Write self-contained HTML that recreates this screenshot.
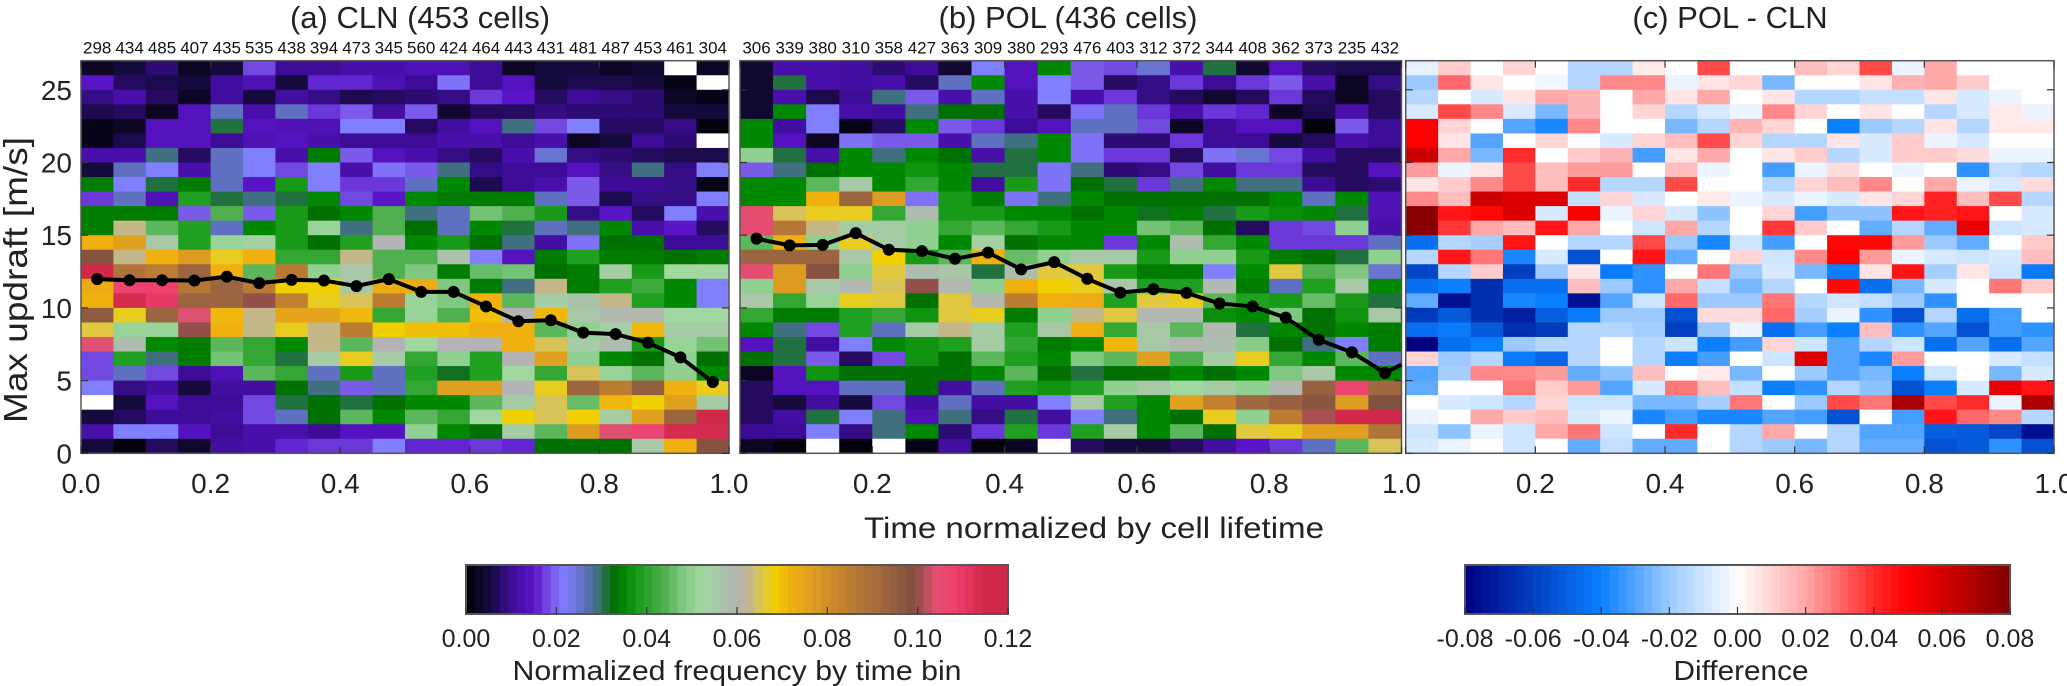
<!DOCTYPE html>
<html><head><meta charset="utf-8">
<style>
html,body{margin:0;padding:0;background:#fff;}
svg{display:block;font-family:"Liberation Sans",Arial,sans-serif;}
</style></head>
<body>
<svg id="fig" width="2067" height="686" viewBox="0 0 2067 686" xmlns="http://www.w3.org/2000/svg">
<rect x="0" y="0" width="2067" height="686" fill="#fff"/>
<g id="panels"></g>
<text x="420" y="28" font-size="31" text-anchor="middle" fill="#222">(a) CLN (453 cells)</text>
<text x="1068" y="28" font-size="31" text-anchor="middle" fill="#222">(b) POL (436 cells)</text>
<text x="1730" y="28" font-size="31" text-anchor="middle" fill="#222">(c) POL - CLN</text>
<text transform="translate(27,280) rotate(-90)" font-size="33" text-anchor="middle" textLength="286" lengthAdjust="spacingAndGlyphs" fill="#222">Max updraft [m/s]</text>
<text x="1094" y="538" font-size="30" text-anchor="middle" textLength="460" lengthAdjust="spacingAndGlyphs" fill="#222">Time normalized by cell lifetime</text>
<text x="737" y="680" font-size="28" text-anchor="middle" textLength="449" lengthAdjust="spacingAndGlyphs" fill="#222">Normalized frequency by time bin</text>
<text x="1741" y="680" font-size="28" text-anchor="middle" textLength="135" lengthAdjust="spacingAndGlyphs" fill="#222">Difference</text>
</svg>
<script>
// ---- data (values x1000; rows listed from top bin 26-27 m/s down to 0-1 m/s) ----
const timeTicks = [0.0,0.2,0.4,0.6,0.8,1.0];
const updraftTicks = [0,5,10,15,20,25];
const countsA = [298,434,485,407,435,535,438,394,473,345,560,424,464,443,431,481,487,453,461,304];
const countsB = [306,339,380,310,358,427,363,309,380,293,476,403,312,372,344,408,362,373,235,432];
const meanA = [11.98,11.9,11.9,11.88,12.15,11.7,11.93,11.88,11.5,11.98,11.1,11.1,10.1,9.08,9.15,8.3,8.2,7.6,6.6,4.9];
const meanB = [14.76,14.3,14.33,15.14,14.0,13.9,13.38,13.8,12.65,13.15,12.0,11.05,11.28,11.03,10.3,10.1,9.33,7.8,6.95,5.53];
const meanBEnd = 6.1;
const freqTickLabels = ["0.00","0.02","0.04","0.06","0.08","0.10","0.12"];
const diffTickLabels = ["-0.08","-0.06","-0.04","-0.02","0.00","0.02","0.04","0.06","0.08"];
const freqA = [
[3,5,8,3,5,18,10,10,12,12,13,13,10,3,5,5,3,4,null,3],
[15,7,6,5,11,13,5,16,16,13,10,21,10,14,5,6,6,5,2,null],
[9,12,7,3,11,5,11,9,6,7,8,9,17,15,7,10,9,8,3,2],
[6,7,3,14,26,12,26,17,19,11,19,4,7,7,9,8,8,8,5,5],
[2,3,14,14,31,14,13,13,22,22,7,11,14,29,18,22,7,7,9,1],
[2,6,14,14,10,13,14,12,10,10,10,12,12,10,12,3,5,10,8,null],
[12,12,29,7,26,22,12,34,19,14,12,9,7,12,25,9,8,7,6,6],
[5,26,22,12,26,22,18,22,12,21,19,29,9,10,10,14,9,29,9,22],
[34,22,31,34,26,15,38,22,17,17,26,35,6,10,12,19,10,10,9,2],
[17,26,13,39,31,29,31,35,18,15,35,34,34,34,26,19,6,9,9,22],
[34,34,34,19,44,19,38,33,35,44,29,26,47,44,38,9,15,7,22,12],
[34,63,45,39,26,35,38,51,29,44,33,26,35,31,26,29,35,12,15,7],
[72,76,56,39,51,54,38,33,39,60,35,38,33,29,11,21,33,33,10,10],
[98,63,72,77,67,72,41,41,63,44,44,57,22,14,34,39,34,34,33,34],
[115,88,85,93,72,45,86,50,56,44,48,34,46,47,33,34,54,38,52,52],
[73,107,108,87,93,86,68,68,56,73,73,48,34,29,63,34,39,42,35,22],
[72,114,110,93,93,100,84,67,65,85,51,48,72,45,55,57,63,39,35,22],
[96,67,93,104,71,63,75,75,71,41,51,44,70,60,71,56,59,59,52,52],
[66,51,51,100,72,63,67,63,85,68,70,70,72,72,45,50,54,71,55,55],
[104,58,35,34,45,41,35,63,45,60,52,60,60,72,65,55,58,38,51,47],
[18,39,29,34,47,41,31,55,67,55,41,50,39,60,76,50,35,33,50,33],
[18,26,18,10,13,45,41,26,38,26,39,32,39,52,41,65,51,45,50,35],
[22,9,11,5,11,11,33,29,19,26,41,76,76,60,67,93,85,95,72,67],
[null,5,14,10,10,18,31,33,31,33,35,35,45,55,65,46,71,68,76,55],
[5,7,10,10,11,18,26,33,45,35,45,41,52,68,65,68,55,76,93,115],
[12,22,22,14,10,12,12,10,14,14,50,35,33,55,45,77,104,107,114,114],
[5,1,7,4,11,12,16,17,17,22,16,16,17,16,33,33,33,56,72,98]
];
const freqB = [
[4,12,12,11,8,10,4,22,14,35,19,18,25,12,31,4,14,7,6,6],
[4,31,12,11,12,7,26,35,14,22,19,7,9,17,10,17,19,12,3,9],
[4,12,6,10,29,19,12,26,12,22,12,17,9,7,4,7,17,7,3,7],
[4,35,22,12,11,29,33,33,12,7,21,26,17,12,17,16,3,6,12,7],
[35,11,22,2,7,35,19,17,10,14,26,26,18,3,10,14,14,1,19,10],
[35,14,3,21,19,19,12,26,29,35,21,8,8,17,10,10,5,7,12,10],
[50,31,12,35,29,35,33,12,31,35,21,17,17,7,21,25,18,11,7,7],
[19,29,33,35,35,37,35,31,31,21,29,8,9,18,11,17,17,7,7,14],
[35,35,45,56,35,41,35,11,38,21,33,31,17,29,35,29,29,10,7,8],
[35,35,72,93,77,21,38,34,21,29,35,33,33,33,33,33,35,26,35,13],
[105,65,67,67,41,58,38,38,35,35,33,35,32,34,31,38,36,35,31,13],
[105,87,63,55,55,50,41,45,41,38,35,35,47,45,33,7,17,18,50,12],
[45,72,50,67,55,50,35,54,33,35,35,17,35,58,41,35,17,17,17,26],
[93,93,93,56,68,38,45,72,46,50,56,55,38,50,50,38,34,33,31,50],
[105,77,98,50,66,58,56,31,58,66,66,38,34,34,22,35,66,44,48,25],
[50,77,56,59,65,100,59,50,72,68,67,56,39,39,59,34,26,39,56,35],
[56,41,51,67,66,33,66,59,85,72,73,39,66,67,45,39,38,46,38,31],
[41,34,34,39,41,37,66,67,34,50,63,66,59,59,36,35,48,33,37,56],
[35,29,18,39,26,55,63,55,39,56,72,41,56,45,59,31,35,33,35,34],
[14,31,11,22,35,37,39,55,41,34,35,71,56,59,58,49,33,29,22,34],
[33,31,19,7,18,37,33,45,39,35,48,45,76,44,55,67,41,35,45,26],
[3,14,37,33,33,33,33,35,45,33,31,33,33,35,33,35,48,56,35,35],
[7,14,14,26,26,33,11,26,39,37,39,50,56,52,55,50,59,94,107,92],
[7,5,11,5,18,11,26,11,11,22,56,39,35,76,84,92,94,97,77,99],
[7,11,31,22,29,13,29,9,31,11,22,29,35,33,67,50,85,101,115,115],
[10,10,22,9,29,35,8,17,39,17,39,55,35,45,33,66,67,76,76,88],
[3,1,null,1,null,2,11,1,3,null,7,5,5,7,11,15,17,26,45,65]
];
const diffC = [
[-5,12,0,10,0,-15,-15,5,0,35,0,0,15,10,35,-4,20,0,0,0],
[-20,30,6,0,-3,-15,25,25,-4,6,10,-25,0,0,6,18,20,12,0,0],
[-15,0,-8,6,20,17,0,20,6,20,0,6,-15,-15,-12,-12,6,-8,-4,0],
[-8,35,25,-8,-25,17,0,10,-15,-8,-4,25,10,0,6,0,-15,-8,5,-4],
[50,10,0,-30,-38,25,0,0,-25,-15,17,10,0,-40,-20,-15,6,-15,5,5],
[50,6,-30,0,10,0,-8,10,15,35,10,-15,-15,6,-8,12,-4,-8,0,0],
[62,20,-25,40,0,12,17,-32,6,20,0,6,12,-15,-8,12,12,8,-4,-4],
[22,-4,6,35,15,22,22,0,15,-4,0,-32,-4,8,0,-4,0,-35,-12,-15],
[6,12,25,35,15,40,-15,-15,35,0,0,-15,10,15,25,0,20,-4,-8,8],
[25,15,62,58,58,-12,10,-8,0,5,-4,-8,-4,-8,6,10,42,15,35,-15],
[78,45,48,58,-8,52,-4,10,-8,-22,0,10,-32,-22,-22,45,42,45,0,-8],
[78,38,20,15,45,20,0,-10,20,-15,0,38,12,0,-28,-15,-28,55,-10,-8],
[-45,-15,-18,45,0,-15,-15,35,-20,-38,-10,-32,0,48,48,22,-20,-28,0,12],
[-15,45,28,-38,-8,-55,0,45,-28,0,10,-10,25,50,22,-4,-8,-10,-8,15],
[-58,-15,12,-60,-20,6,-42,-35,0,28,-20,-8,-25,-40,6,45,-18,6,-10,-42],
[-45,-40,-65,-45,-45,15,-20,-35,20,-12,-25,-15,0,48,-45,-25,-8,0,28,12],
[-28,-75,-65,-38,-40,-75,-30,-10,30,-20,-20,28,-15,-10,-12,-20,-35,0,0,0],
[-62,-52,-65,-70,-50,-42,-20,-20,-55,8,8,30,-18,-4,-35,-55,-15,-45,-32,0],
[-45,-42,-52,-65,-62,-15,-15,-18,-60,-20,-4,-45,-32,-40,15,-35,-30,-55,-32,-35],
[-80,-45,-40,-20,-15,-15,0,-15,-10,-40,-32,10,-10,-30,-15,-10,-45,-30,-45,-30],
[10,-20,-15,-42,-48,-15,0,-15,-40,-32,0,-10,58,-30,-38,22,0,0,-8,-12],
[-30,-18,25,25,22,-28,-22,15,0,5,-25,0,-20,-30,-25,-40,-10,0,-25,-8],
[-28,0,0,28,12,22,-30,-8,28,15,-12,-40,-35,-15,-22,-55,-40,-8,55,45],
[0,-8,-10,-15,10,-10,-10,-25,-25,-18,28,0,-20,35,28,70,35,40,-4,70],
[-4,0,20,12,15,-8,-4,-38,-32,-38,-38,-30,-32,-55,0,-32,45,30,25,-15],
[-10,-22,-4,-10,20,28,-10,0,40,0,-15,20,0,-15,-30,-30,-50,-52,-58,-75],
[-8,-4,0,-10,0,-28,-12,-28,-28,0,-15,-20,-25,-15,-28,-28,-55,-52,-35,-55]
];

// ---- layout ----
const Y_TOP = 60.7, Y_BOT = 453.3, Y_MAX = 27;
const panels = [
  {id:'a', x0:81, x1:729, data:freqA, counts:countsA, mean:meanA, kind:'freq', xlabels:[0,1,2,3,4,5]},
  {id:'b', x0:740, x1:1401.5, data:freqB, counts:countsB, mean:meanB, kind:'freq', xlabels:[1,2,3,4,5]},
  {id:'c', x0:1405.7, x1:2054, data:diffC, counts:null, mean:null, kind:'diff', xlabels:[1,2,3,4,5]}
];
function yScale(v){ return Y_BOT - (v / Y_MAX) * (Y_BOT - Y_TOP); }
function makeX(p){ return t => p.x0 + t * (p.x1 - p.x0); }

function hex(c){ return [parseInt(c.substr(1,2),16),parseInt(c.substr(3,2),16),parseInt(c.substr(5,2),16)]; }
function interp(stops, v){
  if (v <= stops[0][0]) return 'rgb(' + hex(stops[0][1]).join(',') + ')';
  for (let i = 1; i < stops.length; i++){
    if (v <= stops[i][0]){
      const a = stops[i-1], b = stops[i];
      const f = (v - a[0]) / (b[0] - a[0]);
      const ca = hex(a[1]), cb = hex(b[1]);
      return 'rgb(' + ca.map((q,k)=>Math.round(q + (cb[k]-q)*f)).join(',') + ')';
    }
  }
  return 'rgb(' + hex(stops[stops.length-1][1]).join(',') + ')';
}
const freqStops = [[0,'#000000'],[5,'#140a3c'],[10,'#3c0c96'],[15,'#5a14c8'],[19,'#7a5ae8'],[22,'#8080ff'],[26,'#6070c0'],[29,'#407080'],[31,'#207040'],[33,'#007000'],[35,'#008800'],[39,'#20a020'],[44,'#50b050'],[48,'#80c880'],[52,'#a0d8a0'],[56,'#a8c8a8'],[60,'#b4b4b4'],[63,'#c4b888'],[66,'#e0c840'],[68,'#f0d000'],[72,'#f0b010'],[76,'#e0a020'],[84,'#c08030'],[92,'#a06840'],[99,'#805040'],[104,'#e05070'],[108,'#f04070'],[115,'#d02848'],[120,'#d02848']];
const diffStops = [[-80,'#000080'],[-60,'#0040c0'],[-40,'#0a80ff'],[-20,'#9ccaff'],[0,'#ffffff'],[20,'#ffa8a8'],[40,'#ff2a2a'],[50,'#ff0000'],[80,'#800000']];

const NS = 'http://www.w3.org/2000/svg';
const root = document.getElementById('panels');
function el(tag, attrs, parent){
  const e = document.createElementNS(NS, tag);
  for (const k in attrs) e.setAttribute(k, attrs[k]);
  (parent || root).appendChild(e);
  return e;
}

panels.forEach(p => {
  const xs = makeX(p);
  const g = el('g', {});
  
  
  const nRows = p.data.length, nCols = p.data[0].length;
  for (let r = 0; r < nRows; r++){
    const binLo = nRows - 1 - r;
    for (let c = 0; c < nCols; c++){
      const v = p.data[r][c];
      const fill = v === null ? '#ffffff' : (p.kind === 'freq' ? interp(freqStops, v) : interp(diffStops, v));
      const xa = xs(c / nCols), xb = xs((c + 1) / nCols);
      const ya = yScale(binLo + 1), yb = yScale(binLo);
      const rc = el('rect', {x:xa, y:ya, width:(xb - xa + 0.4), height:(yb - ya + 0.4), fill:fill}, g);
      
      
    }
  }
  const fr = el('rect', {x:p.x0, y:Y_TOP, width:p.x1 - p.x0, height:Y_BOT - Y_TOP, fill:'none', stroke:'#555', 'stroke-width':1.5}, g);
  
  
  timeTicks.forEach((t, i) => {
    const x = xs(t);
    el('line', {x1:x, y1:Y_BOT, x2:x, y2:Y_BOT - 7, stroke:'#333', 'stroke-width':1.2}, g);
    el('line', {x1:x, y1:Y_TOP, x2:x, y2:Y_TOP + 7, stroke:'#333', 'stroke-width':1.2}, g);
    if (p.xlabels.indexOf(i) >= 0){
      const tx = el('text', {x:x, y:493, 'font-size':28, 'text-anchor':'middle', fill:'#222'}, g);
      tx.textContent = t.toFixed(1);
      
      
    }
  });
  updraftTicks.forEach(v => {
    const y = yScale(v);
    el('line', {x1:p.x0, y1:y, x2:p.x0 + 7, y2:y, stroke:'#333', 'stroke-width':1.2}, g);
    el('line', {x1:p.x1, y1:y, x2:p.x1 - 7, y2:y, stroke:'#333', 'stroke-width':1.2}, g);
    if (p.id === 'a'){
      const ty = el('text', {x:72, y:y + 10, 'font-size':28, 'text-anchor':'end', fill:'#222'}, g);
      ty.textContent = String(v);
      
      
    }
  });
  if (p.counts){
    p.counts.forEach((n, c) => {
      const tc = el('text', {x:xs((c + 0.5) / p.counts.length), y:53.5, 'font-size':17, 'text-anchor':'middle', fill:'#111'}, g);
      tc.textContent = String(n);
      
      
    });
  }
  if (p.mean){
    const n = p.mean.length;
    let pts = p.mean.map((v, c) => xs((c + 0.5) / n) + ',' + yScale(v));
    if (p.id === 'b') pts.push(xs(1) + ',' + yScale(meanBEnd));
    const pl = el('polyline', {points:pts.join(' '), fill:'none', stroke:'#000', 'stroke-width':4, 'stroke-linejoin':'round'}, g);
    
    
    p.mean.forEach((v, c) => {
      const ci = el('circle', {cx:xs((c + 0.5) / n), cy:yScale(v), r:6, fill:'#000'}, g);
      
      
    });
  }
});

function colorbar(x0, x1, y0, y1, stops, vmin, vmax, labels, name){
  const g = el('g', {});
  
  
  const steps = 64;
  for (let i = 0; i < steps; i++){
    const v = vmin + (vmax - vmin) * (i + 0.5) / steps;
    const xa = x0 + (x1 - x0) * i / steps;
    el('rect', {x:xa, y:y0, width:(x1 - x0) / steps + 0.5, height:y1 - y0, fill:interp(stops, v)}, g);
  }
  el('rect', {x:x0, y:y0, width:x1 - x0, height:y1 - y0, fill:'none', stroke:'#555', 'stroke-width':2}, g);
  labels.forEach((lab, i) => {
    const x = x0 + (x1 - x0) * i / (labels.length - 1);
    el('line', {x1:x, y1:y1, x2:x, y2:y1 - 7, stroke:'#333', 'stroke-width':1.2}, g);
    const t = el('text', {x:x, y:647, 'font-size':25, 'text-anchor':'middle', fill:'#222'}, g);
    t.textContent = lab;
    
    
  });
}
colorbar(466, 1008, 565, 614, freqStops, 0, 120, freqTickLabels, 'colorbar-frequency');
colorbar(1465, 2010, 565, 614, diffStops, -80, 80, diffTickLabels, 'colorbar-difference');
</script>
</body></html>
